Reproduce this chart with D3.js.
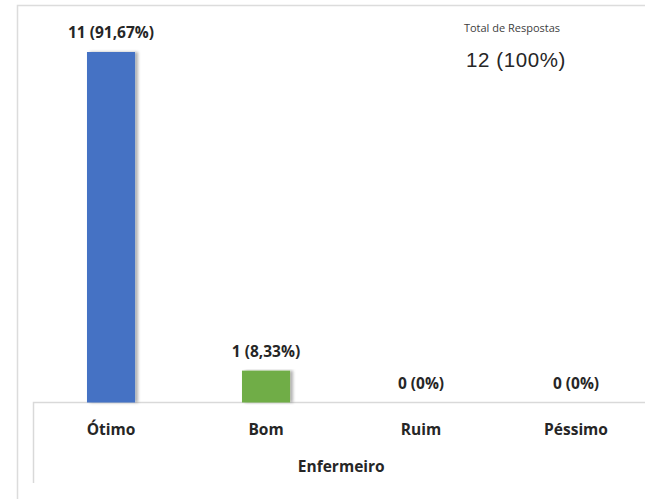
<!DOCTYPE html>
<html>
<head>
<meta charset="utf-8">
<script src="https://cdn.jsdelivr.net/npm/d3@7"></script>
<style>
    body { margin: 0; background: #fff; }
    svg { display: block; }
</style>
</head>
<body>
<div id="graph"></div>
<script>
// Données
const categories = ["Ótimo", "Bom", "Ruim", "Péssimo"];
const respostas = [11, 1, 0, 0];
const pourcentages = ["91,67%", "8,33%", "0%", "0%"];
const couleurs = ["#4472C4", "#70AD47", "#A5A5A5", "#FFC000"];
const titreAxe = "Enfermeiro";
const totalLabel = "Total de Respostas";
const totalValue = "12 (100%)";

const width = 645;
const height = 499;

const plotLeft = 33.5;
const plotRight = 653.5;
const baseY = 402.5;
const topY = 52;

const svg = d3.select("#graph")
    .append("svg")
    .attr("width", width)
    .attr("height", height);

// ombre des barres
const defs = svg.append("defs");
const filter = defs.append("filter")
    .attr("id", "ombre")
    .attr("x", "-20%").attr("y", "-5%")
    .attr("width", "150%").attr("height", "110%");
filter.append("feDropShadow")
    .attr("dx", 3).attr("dy", 0)
    .attr("stdDeviation", 1.5)
    .attr("flood-color", "#000")
    .attr("flood-opacity", 0.3);

// cadres
svg.append("path")
    .attr("d", `M17.5,499 V5.5 H645`)
    .attr("fill", "none")
    .attr("stroke", "#dcdcdc")
    .attr("stroke-width", 1.5);

svg.append("path")
    .attr("d", `M${plotLeft},483 V${baseY} H645`)
    .attr("fill", "none")
    .attr("stroke", "#d9d9d9")
    .attr("stroke-width", 1.5);

// échelles
const x = d3.scaleBand()
    .domain(categories)
    .range([plotLeft, plotRight])
    .paddingInner(0.69)
    .paddingOuter(0.345);

const y = d3.scaleLinear()
    .domain([0, d3.max(respostas)])
    .range([baseY, topY]);

// barres
svg.append("g")
    .selectAll("rect")
    .data(categories)
    .join("rect")
    .attr("x", d => x(d))
    .attr("y", (d, i) => y(respostas[i]))
    .attr("width", x.bandwidth())
    .attr("height", (d, i) => y(0) - y(respostas[i]))
    .attr("fill", (d, i) => couleurs[i])
    .attr("filter", "url(#ombre)");

// labels des valeurs
svg.append("g")
    .selectAll("text")
    .data(categories)
    .join("text")
    .attr("x", d => x(d) + x.bandwidth() / 2)
    .attr("y", (d, i) => y(respostas[i]) - 14)
    .attr("text-anchor", "middle")
    .attr("font-family", "'Open Sans', sans-serif")
    .attr("font-weight", "bold")
    .attr("font-size", "15.5px")
    .attr("fill", "#262626")
    .text((d, i) => `${respostas[i]} (${pourcentages[i]})`);

// axe des X
const xAxis = g => g
    .attr("transform", `translate(0, ${baseY})`)
    .call(d3.axisBottom(x).tickSize(0).tickPadding(21))
    .call(g => g.select(".domain").remove())
    .selectAll("text")
    .attr("font-family", "'Open Sans', sans-serif")
    .attr("font-weight", "bold")
    .attr("font-size", "15.5px")
    .attr("fill", "#262626");

svg.append("g").call(xAxis);

svg.append("text")
    .attr("x", (plotLeft + 645) / 2 + 2)
    .attr("y", 472)
    .attr("text-anchor", "middle")
    .attr("font-family", "'Open Sans', sans-serif")
    .attr("font-weight", "bold")
    .attr("font-size", "15.5px")
    .attr("fill", "#262626")
    .text(titreAxe);

// total
svg.append("text")
    .attr("x", 512)
    .attr("y", 32)
    .attr("text-anchor", "middle")
    .attr("font-family", "'Open Sans', sans-serif")
    .attr("font-size", "11px")
    .attr("fill", "#404040")
    .text(totalLabel);

svg.append("text")
    .attr("x", 516)
    .attr("y", 67)
    .attr("text-anchor", "middle")
    .attr("font-family", "'Liberation Sans', Arial, sans-serif")
    .attr("font-size", "20.5px")
    .attr("letter-spacing", "0.6px")
    .attr("fill", "#262626")
    .text(totalValue);
</script>
</body>
</html>
